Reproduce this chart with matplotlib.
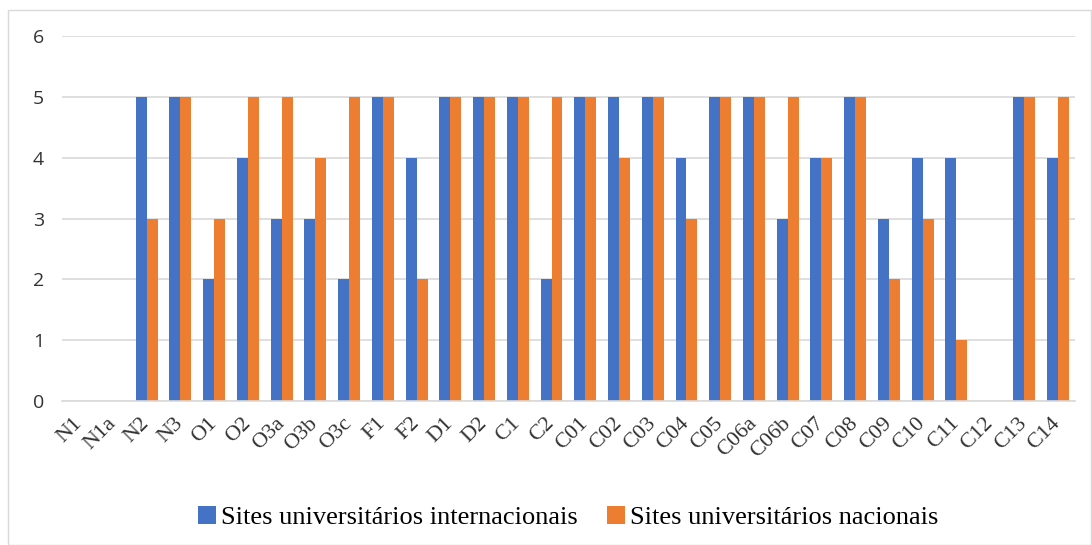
import numpy as np
import matplotlib.pyplot as plt
from matplotlib.patches import Rectangle
from matplotlib.font_manager import FontProperties

categorias = ['N1', 'N1a', 'N2', 'N3', 'O1', 'O2', 'O3a', 'O3b', 'O3c', 'F1', 'F2',
              'D1', 'D2', 'C1', 'C2', 'C01', 'C02', 'C03', 'C04', 'C05', 'C06a',
              'C06b', 'C07', 'C08', 'C09', 'C10', 'C11', 'C12', 'C13', 'C14']
internacionais = [0, 0, 5, 5, 2, 4, 3, 3, 2, 5, 4, 5, 5, 5, 2, 5, 5, 5, 4, 5, 5,
                  3, 4, 5, 3, 4, 4, 0, 5, 4]
nacionais = [0, 0, 3, 5, 3, 5, 5, 4, 5, 5, 2, 5, 5, 5, 5, 5, 4, 5, 3, 5, 5,
             5, 4, 5, 2, 3, 1, 0, 5, 5]

azul = '#4472C4'
laranja = '#ED7D31'
serif = FontProperties(family='Liberation Serif', size=19)

fig = plt.figure(figsize=(10.92, 5.45), dpi=100)
fig.patches.append(Rectangle((8 / 1092, 0), 1 - 8 / 1092 - 0.001, 1 - 10 / 545,
                             transform=fig.transFigure, fill=False,
                             edgecolor='#D9D9D9', linewidth=1))
ax = fig.add_axes([0.057, 0.264, 0.927, 0.670])

x = np.arange(len(categorias))
w = 0.325
ax.bar(x - w / 2, internacionais, w, color=azul, label='Sites universitários internacionais')
ax.bar(x + w / 2, nacionais, w, color=laranja, label='Sites universitários nacionais')

ax.set_xlim(-0.5, len(categorias) - 0.5)
ax.set_ylim(0, 6)
ax.set_yticks(range(0, 7))
ax.yaxis.grid(True, color='#D9D9D9', linewidth=1.2)
ax.set_axisbelow(True)
for s in ['top', 'right', 'left']:
    ax.spines[s].set_visible(False)
ax.spines['bottom'].set_color('#D9D9D9')
ax.spines['bottom'].set_linewidth(1.2)
ax.tick_params(axis='both', length=0)
ax.tick_params(axis='y', pad=13, labelsize=14, labelcolor='#333333')
for t in ax.get_yticklabels():
    t.set_fontfamily('Open Sans')

ax.set_xticks(x)
ax.set_xticklabels(categorias, rotation=45, ha='right', va='center',
                   rotation_mode='anchor', fontfamily='Liberation Serif',
                   fontsize=16, color='#333333')
ax.tick_params(axis='x', pad=14)

ax.legend(loc='upper center', bbox_to_anchor=(0.5, -0.222), ncol=2, frameon=False,
          prop=serif, handlelength=0.66, handleheight=0.66, handletextpad=0.22,
          columnspacing=1.1)

fig.savefig('out.png', dpi=100)
